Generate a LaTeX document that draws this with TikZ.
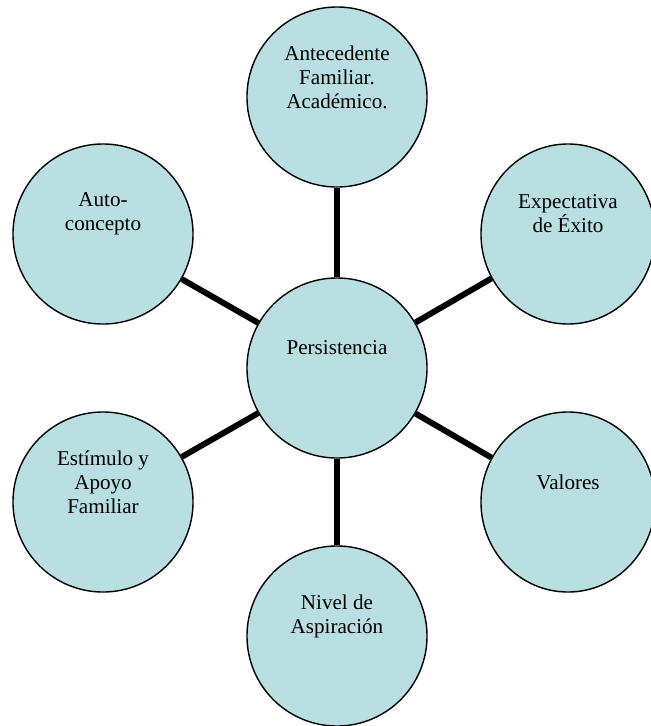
\documentclass[tikz,border=0pt]{standalone}
\usepackage{fontspec}
\setmainfont{Liberation Serif}
\usetikzlibrary{shapes.geometric}
\definecolor{burbuja}{HTML}{B9DFE3}
\tikzset{
    factor/.style = {ellipse, draw = black, line width = 1pt, fill = burbuja, minimum width = 4.5cm, minimum height = 4.5cm, inner sep = 0pt},
    lado/.style = {factor, minimum width = 4.35cm},
    texto/.style = {align = center, font = \fontsize{15}{17}\selectfont, yshift = 0.5cm},
    enlace/.style = {line width = 4.2pt}
}

\begin{document}
\begin{tikzpicture}[x = 0.025cm, y = -0.025cm]
    \useasboundingbox (0,0) rectangle (651,726);
        \node [factor] (pers) at (337,368) {};
        \node [factor] (antec) at (337,97) {};
        \node [lado] (expect) at (568,234) {};
        \node [lado] (valores) at (568,502) {};
        \node [factor] (nivel) at (337,636) {};
        \node [factor] (estimulo) at (103,502) {};
        \node [factor] (auto) at (103,234) {};
        % textos de cada burbuja
        \node [texto] (tpers) at (pers.center) {Persistencia};
        \node [texto] (tantec) at (antec.center) {Antecedente\\Familiar.\\Académico.};
        \node [texto] (texpect) at (expect.center) {Expectativa\\de Éxito};
        \node [texto] (tvalores) at (valores.center) {Valores};
        \node [texto] (tnivel) at (nivel.center) {Nivel de\\Aspiración};
        \node [texto] (testimulo) at (estimulo.center) {Estímulo y\\Apoyo\\Familiar};
        \node [texto] (tauto) at (auto.center) {Auto-\\concepto};
        % enlaces
        \draw [enlace] (pers) -- (antec);
        \draw [enlace] (pers) -- (expect);
        \draw [enlace] (pers) -- (valores);
        \draw [enlace] (pers) -- (nivel);
        \draw [enlace] (pers) -- (estimulo);
        \draw [enlace] (pers) -- (auto);
    \end{tikzpicture}
\end{document}
